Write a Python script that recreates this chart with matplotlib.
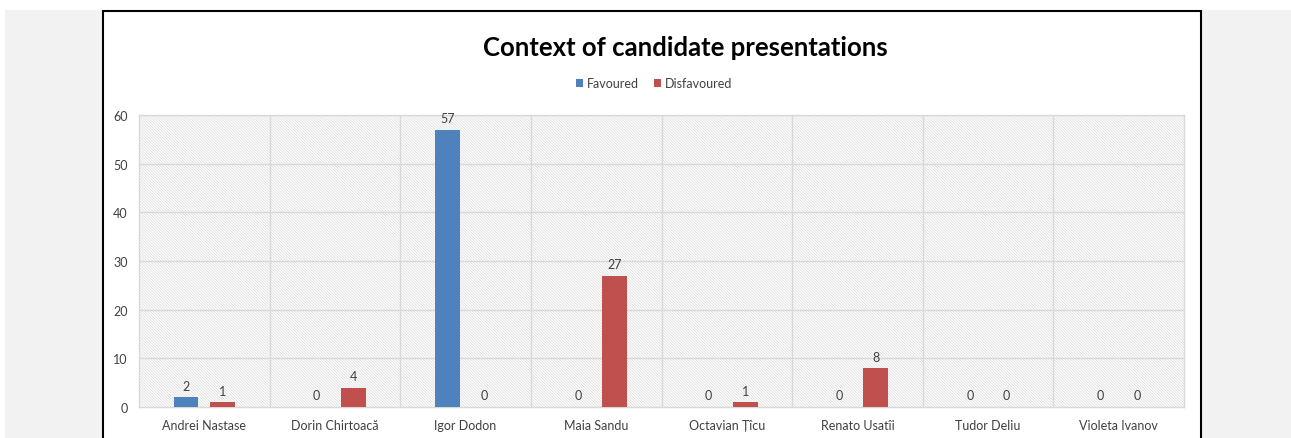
import matplotlib.pyplot as plt
import numpy as np
from matplotlib.patches import Rectangle

candidates = ['Andrei Nastase', 'Dorin Chirtoacă', 'Igor Dodon', 'Maia Sandu',
              'Octavian Țîcu', 'Renato Usatîi', 'Tudor Deliu', 'Violeta Ivanov']
favoured = [2, 0, 57, 0, 0, 0, 0, 0]
disfavoured = [1, 4, 0, 27, 1, 8, 0, 0]

blue = '#4f81bd'
red = '#c0504d'
plt.rcParams['font.family'] = ['Lato', 'DejaVu Sans']
plt.rcParams['hatch.linewidth'] = 0.5

fig = plt.figure(figsize=(12.91, 4.39), dpi=100)
W, H = 1291, 439

# page background and chart frame
fig.patches.append(Rectangle((5 / W, 0), 1, 1 - 11 / H, transform=fig.transFigure,
                             facecolor='#f2f2f2', edgecolor='none', zorder=0))
fig.patches.append(Rectangle((103 / W, -0.05), 1098 / W, 1.05 - 11.5 / H,
                             transform=fig.transFigure, facecolor='white',
                             edgecolor='black', linewidth=1.5, zorder=1))

ax = fig.add_axes([139 / W, 1 - 408 / H, 1045 / W, 292 / H])
ax.set_zorder(2)
ax.patch.set_facecolor('white')
# fine diagonal hatched plot background
ax.add_patch(Rectangle((0, 0), 1, 1, transform=ax.transAxes, facecolor='white',
                       edgecolor='#d9d9d9', linewidth=0, hatch='\\' * 12, zorder=0))

x = np.arange(len(candidates))
w = 0.19
off = 0.14
b1 = ax.bar(x - off, favoured, w, color=blue, label='Favoured', zorder=3)
b2 = ax.bar(x + off, disfavoured, w, color=red, label='Disfavoured', zorder=3)
for bars in (b1, b2):
    for rect in bars:
        h = rect.get_height()
        ax.annotate(f'{int(h)}', (rect.get_x() + rect.get_width() / 2, h),
                    xytext=(0, 4), textcoords='offset points', ha='center',
                    va='bottom', fontsize=9, color='#404040', zorder=4)

ax.set_xlim(-0.5, len(candidates) - 0.5)
ax.set_ylim(0, 60)
ax.set_yticks(range(0, 61, 10))
ax.set_xticks(x)
ax.set_xticklabels(candidates)
for v in range(10, 61, 10):
    ax.axhline(v, color='#d9d9d9', linewidth=1, zorder=1)
for v in np.arange(0.5, len(candidates) - 0.5):
    ax.axvline(v, color='#d9d9d9', linewidth=1, zorder=1)
ax.tick_params(axis='both', length=0, labelsize=9, colors='#404040')
ax.tick_params(axis='y', pad=8)
ax.tick_params(axis='x', pad=9)
for s in ax.spines.values():
    s.set_color('#d9d9d9')
    s.set_linewidth(1)

fig.text(685 / W, 1 - 48 / H, 'Context of candidate presentations', ha='center',
         va='center', fontsize=18.5, fontweight='bold', color='black')
fig.legend(handles=[b1, b2], loc='center', bbox_to_anchor=(654 / W, 1 - 84 / H),
           ncol=2, frameon=False, fontsize=9, handlelength=0.6, handleheight=0.6,
           handletextpad=0.3, columnspacing=1.2, labelcolor='#404040')

fig.savefig('out.png', dpi=100)
